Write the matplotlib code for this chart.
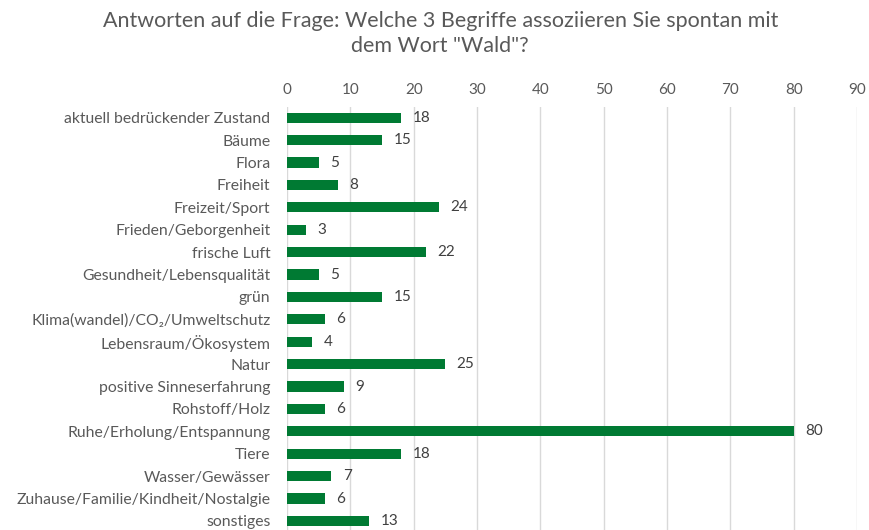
import matplotlib
matplotlib.use('Agg')
import matplotlib.pyplot as plt

plt.rcParams['font.family'] = ['Lato', 'DejaVu Sans']

# Daten
kategorien = ['aktuell bedrückender Zustand', 'Bäume', 'Flora', 'Freiheit', 'Freizeit/Sport',
              'Frieden/Geborgenheit', 'frische Luft', 'Gesundheit/Lebensqualität', 'grün',
              'Klima(wandel)/CO₂/Umweltschutz', 'Lebensraum/Ökosystem', 'Natur',
              'positive Sinneserfahrung', 'Rohstoff/Holz', 'Ruhe/Erholung/Entspannung',
              'Tiere', 'Wasser/Gewässer', 'Zuhause/Familie/Kindheit/Nostalgie', 'sonstiges']
anzahl = [18, 15, 5, 8, 24, 3, 22, 5, 15, 6, 4, 25, 9, 6, 80, 18, 7, 6, 13]
x_ticks = [0, 10, 20, 30, 40, 50, 60, 70, 80, 90]

gruen = '#007A33'
grau = '#595959'

fig = plt.figure(figsize=(8.7, 5.3), dpi=100)
ax = fig.add_axes([0.33, -0.004, 0.655, 0.803])

ypos = list(range(len(kategorien)))
ax.barh(ypos, anzahl, height=0.45, color=gruen, zorder=3)
for y, v in zip(ypos, anzahl):
    ax.text(v + 1.8, y, str(v), va='center', ha='left', fontsize=11, color='#404040')

ax.set_ylim(len(kategorien) - 0.5, -0.5)
ax.set_xlim(0, 90)
ax.set_yticks(ypos)
ax.set_yticklabels(kategorien, fontsize=11.3, color=grau)
ax.set_xticks(x_ticks)
ax.xaxis.tick_top()
ax.tick_params(axis='x', labelsize=11, labelcolor=grau, length=0, pad=7)
ax.tick_params(axis='y', length=0, pad=12)
ax.grid(axis='x', color='#D9D9D9', linewidth=1, zorder=0)
for s in ax.spines.values():
    s.set_visible(False)

fig.text(0.506, 0.96, 'Antworten auf die Frage: Welche 3 Begriffe assoziieren Sie spontan mit',
         ha='center', va='center', fontsize=15.5, color=grau)
fig.text(0.506, 0.913, 'dem Wort "Wald"?', ha='center', va='center', fontsize=15.5, color=grau)

fig.savefig('out.png', dpi=100)
